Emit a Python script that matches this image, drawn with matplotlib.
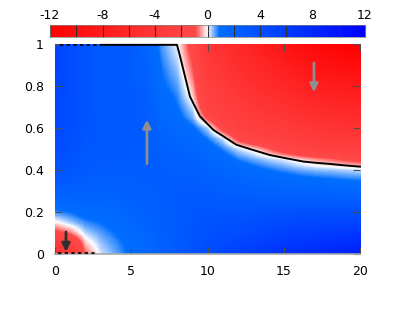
import numpy as np
import matplotlib
matplotlib.use("Agg")
import matplotlib.pyplot as plt
from matplotlib.colors import LinearSegmentedColormap, Normalize

plt.rcParams["axes.unicode_minus"] = False
plt.rcParams["font.family"] = "DejaVu Sans"

# grid the field was read on
x_vals = [0, 1, 2, 3, 4, 5, 6, 7, 8, 9, 10, 11, 12, 13, 14, 15, 16, 17, 18, 19, 20]
y_vals = [0.0, 0.05, 0.1, 0.15, 0.2, 0.25, 0.3, 0.35, 0.4, 0.45, 0.5,
          0.55, 0.6, 0.65, 0.7, 0.75, 0.8, 0.85, 0.9, 0.95, 1.0]

# one list per x column, values from y=0 up to y=1
field_by_x = [
    [-5.0, -3.4, -1.2, -0.1, 0.7, 1.5, 2.3, 3.0, 3.6, 4.0, 4.3, 4.5, 4.7, 4.8, 4.9, 5.0, 5.1, 5.1, 5.2, 5.2, 5.2],
    [-3.8, -2.5, -0.7, 0.3, 0.9, 1.6, 2.2, 2.8, 3.2, 3.5, 3.8, 3.9, 4.0, 4.1, 4.1, 4.2, 4.2, 4.2, 4.2, 4.2, 4.2],
    [-0.8, -0.3, 0.25, 0.7, 1.2, 1.7, 2.1, 2.5, 2.8, 3.0, 3.2, 3.3, 3.4, 3.4, 3.5, 3.5, 3.5, 3.5, 3.5, 3.5, 3.5],
    [0.15, 0.35, 0.6, 0.9, 1.3, 1.7, 2.1, 2.4, 2.6, 2.8, 2.9, 3.0, 3.1, 3.1, 3.1, 3.1, 3.1, 3.1, 3.1, 3.1, 3.1],
    [0.55, 0.7, 0.9, 1.2, 1.5, 1.9, 2.2, 2.4, 2.6, 2.7, 2.8, 2.9, 2.9, 2.9, 2.9, 2.9, 2.9, 2.9, 2.9, 2.9, 2.9],
    [1.0, 1.1, 1.3, 1.6, 1.9, 2.1, 2.3, 2.5, 2.6, 2.7, 2.7, 2.8, 2.8, 2.8, 2.8, 2.8, 2.8, 2.7, 2.7, 2.7, 2.7],
    [1.5, 1.6, 1.8, 2.0, 2.2, 2.3, 2.5, 2.6, 2.6, 2.7, 2.7, 2.7, 2.6, 2.6, 2.5, 2.4, 2.3, 2.1, 2.0, 1.8, 1.6],
    [2.2, 2.3, 2.4, 2.5, 2.5, 2.6, 2.6, 2.6, 2.6, 2.5, 2.3, 2.1, 1.9, 1.6, 1.4, 1.2, 1.0, 0.9, 0.8, 0.7, 0.6],
    [2.9, 2.9, 2.9, 2.8, 2.8, 2.8, 2.7, 2.6, 2.5, 2.3, 2.0, 1.7, 1.4, 1.1, 0.9, 0.75, 0.6, 0.45, 0.3, 0.15, 0.05],
    [3.6, 3.5, 3.4, 3.3, 3.2, 3.0, 2.8, 2.6, 2.4, 2.1, 1.8, 1.4, 1.0, 0.5, 0.18, -0.2, -0.45, -0.7, -0.9, -1.1, -1.3],
    [4.3, 4.0, 3.7, 3.5, 3.3, 3.0, 2.7, 2.4, 2.1, 1.7, 1.3, 0.8, 0.25, -1.1, -2.0, -2.3, -2.6, -2.9, -3.2, -3.6, -4.0],
    [5.0, 4.5, 4.1, 3.7, 3.3, 2.9, 2.5, 2.2, 1.8, 1.3, 0.75, 0.15, -1.33, -2.2, -2.6, -3.0, -3.3, -3.7, -4.1, -4.5, -5.0],
    [5.5, 4.9, 4.3, 3.8, 3.3, 2.8, 2.4, 1.9, 1.4, 0.8, 0.2, -1.16, -2.3, -2.8, -3.2, -3.7, -4.2, -4.6, -5.1, -5.5, -6.0],
    [6.0, 5.3, 4.6, 4.0, 3.4, 2.8, 2.2, 1.7, 1.1, 0.54, -0.18, -1.9, -2.6, -3.15, -3.7, -4.25, -4.8, -5.35, -5.9, -6.45, -7.0],
    [6.5, 5.8, 5.0, 4.3, 3.6, 2.8, 2.1, 1.5, 0.88, 0.28, -0.8, -2.3, -2.9, -3.6, -4.2, -4.8, -5.5, -6.1, -6.7, -7.4, -8.0],
    [7.0, 6.2, 5.4, 4.6, 3.7, 2.8, 2.0, 1.3, 0.7, 0.1, -1.47, -2.4, -3.1, -3.9, -4.6, -5.3, -6.1, -6.8, -7.5, -8.3, -9.0],
    [7.4, 6.5, 5.6, 4.7, 3.8, 2.9, 1.9, 1.15, 0.53, -0.21, -2.0, -2.8, -3.6, -4.4, -5.2, -6.0, -6.8, -7.6, -8.4, -9.2, -10.0],
    [7.8, 6.8, 5.8, 4.8, 3.8, 2.8, 1.8, 1.05, 0.42, -0.53, -2.2, -3.1, -3.9, -4.8, -5.6, -6.5, -7.4, -8.2, -9.1, -9.9, -10.8],
    [8.2, 7.1, 6.0, 4.9, 3.8, 2.7, 1.7, 1.0, 0.35, -0.74, -2.4, -3.3, -4.2, -5.1, -6.0, -6.9, -7.7, -8.6, -9.5, -10.4, -11.3],
    [8.6, 7.4, 6.2, 5.0, 3.8, 2.6, 1.6, 0.9, 0.26, -0.98, -2.5, -3.4, -4.3, -5.3, -6.2, -7.1, -8.0, -8.9, -9.9, -10.8, -11.7],
    [9.0, 7.7, 6.4, 5.1, 3.8, 2.6, 1.5, 0.85, 0.2, -1.19, -2.5, -3.45, -4.4, -5.35, -6.3, -7.25, -8.2, -9.15, -10.1, -11.05, -12.0],
]

# zero line (black)
curve_x = [3.0, 8.0, 8.17, 8.34, 8.51, 8.68, 8.85, 9.19, 9.51, 10.0, 10.4,
           11.0, 11.9, 13.0, 14.1, 15.0, 16.3, 17.0, 18.0, 19.0, 20.0]
curve_y = [0.996, 0.996, 0.95, 0.90, 0.85, 0.80, 0.75, 0.70, 0.655, 0.619, 0.59,
           0.562, 0.52, 0.495, 0.471, 0.458, 0.44, 0.435, 0.429, 0.422, 0.416]
top_dash_x = [0.3, 3.0]
top_dash_y = [0.996, 0.996]
bottom_dash_x = [0.2, 2.75]
bottom_dash_y = [0.006, 0.006]

# arrows: (x, y_from, y_to)
grey_arrows = [(6.03, 0.43, 0.64), (16.98, 0.91, 0.77)]
dark_arrows = [(0.72, 0.105, 0.01)]

cbar_ticks = [-12, -8, -4, 0, 4, 8, 12]
cbar_minor = [-10, -6, -2, 2, 6, 10]


def main():
    vmin, vmax = -12, 12
    nodes = [(-12, (1, 0, 0)), (-0.9, (1, 0.29, 0.29)), (0, (1, 1, 1)),
             (0.9, (0, 0.43, 1)), (12, (0, 0, 1))]
    cmap = LinearSegmentedColormap.from_list(
        "rwb", [((v - vmin) / (vmax - vmin), c) for v, c in nodes], N=512)
    norm = Normalize(vmin, vmax)

    data = np.array(field_by_x).T  # rows = y, cols = x
    dx = (x_vals[1] - x_vals[0]) / 2
    dy = (y_vals[1] - y_vals[0]) / 2

    fig = plt.figure(figsize=(4.15, 3.12), dpi=100)
    ax = fig.add_axes([55 / 415, 1 - 254 / 312, 305 / 415, 210 / 312])
    im = ax.imshow(data, origin="lower", aspect="auto", cmap=cmap, norm=norm,
                   extent=[x_vals[0] - dx, x_vals[-1] + dx, y_vals[0] - dy, y_vals[-1] + dy],
                   interpolation="bilinear", interpolation_stage="data")
    ax.set_xlim(0, 20)
    ax.set_ylim(0, 1)

    ax.plot(curve_x, curve_y, color="black", lw=1.4, clip_on=False, zorder=3)
    ax.plot(top_dash_x, top_dash_y, color="black", lw=1.2, dashes=(2, 2), clip_on=False, zorder=3)
    ax.plot(bottom_dash_x, bottom_dash_y, color="black", lw=1.2, dashes=(2, 2), zorder=3)

    for x, y0, y1 in grey_arrows:
        ax.annotate("", xy=(x, y1), xytext=(x, y0),
                    arrowprops=dict(arrowstyle="-|>", color="#8e8e8e", lw=2,
                                    mutation_scale=12, shrinkA=0, shrinkB=0))
    for x, y0, y1 in dark_arrows:
        ax.annotate("", xy=(x, y1), xytext=(x, y0),
                    arrowprops=dict(arrowstyle="-|>", color="#303030", lw=2,
                                    mutation_scale=12, shrinkA=0, shrinkB=0))

    ax.set_xticks([0, 5, 10, 15, 20])
    ax.set_yticks([0, 0.2, 0.4, 0.6, 0.8, 1])
    ax.set_yticklabels(["0", "0.2", "0.4", "0.6", "0.8", "1"])
    ax.tick_params(direction="in", top=True, right=True, length=5, width=0.8,
                   color="#505050", labelsize=9, pad=8)
    for side in ["top", "left", "right"]:
        ax.spines[side].set_visible(False)
    ax.spines["bottom"].set_color("#a8a8a8")
    ax.spines["bottom"].set_linewidth(1.2)

    cax = fig.add_axes([50 / 415, 1 - 37 / 312, 315 / 415, 12 / 312])
    cb = fig.colorbar(im, cax=cax, orientation="horizontal")
    cb.set_ticks(cbar_ticks)
    cb.set_ticklabels([str(t) for t in cbar_ticks])
    cax.set_xticks(cbar_minor, minor=True)
    cax.xaxis.set_ticks_position("both")
    cax.xaxis.set_label_position("top")
    cax.tick_params(which="both", direction="in", top=True, bottom=True,
                    labeltop=True, labelbottom=False, length=4.5, width=0.8,
                    color="#303030", labelsize=9, pad=2)
    cb.outline.set_edgecolor("#808080")
    cb.outline.set_linewidth(0.5)

    fig.savefig("out.png", dpi=100)


if __name__ == "__main__":
    main()
